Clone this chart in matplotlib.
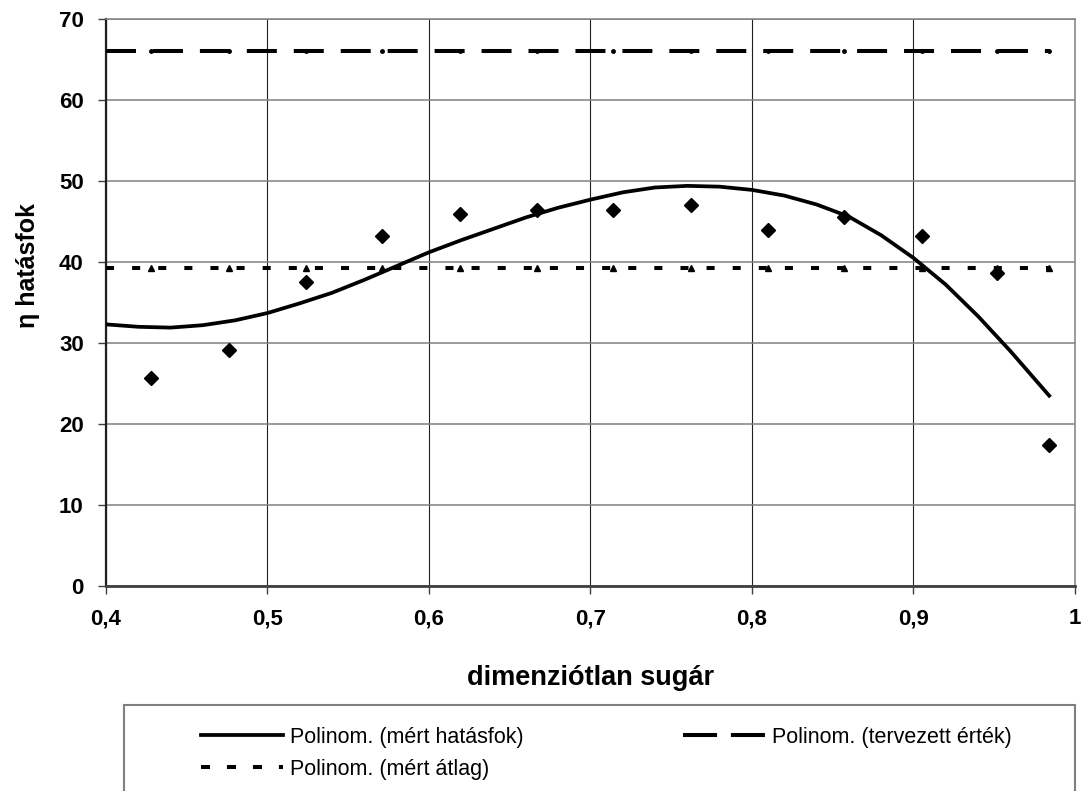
import numpy as np
import matplotlib.pyplot as plt
from matplotlib.lines import Line2D
from matplotlib.patches import Rectangle

plt.rcParams['font.family'] = ['Liberation Sans', 'DejaVu Sans']
plt.rcParams['lines.scale_dashes'] = False

# dimenziótlan sugár (mérési pontok)
r = [0.428, 0.476, 0.524, 0.571, 0.619, 0.667, 0.714, 0.762, 0.810, 0.857, 0.905, 0.952, 0.984]
# mért hatásfok
eta = [25.7, 29.1, 37.5, 43.2, 45.9, 46.4, 46.4, 47.0, 44.0, 45.6, 43.2, 38.7, 17.4]
# tervezett érték
tervezett = [66.0, 66.0, 66.0, 66.0, 66.0, 66.0, 66.0, 66.0, 66.0, 66.0, 66.0, 66.0, 66.0]
# mért átlag
atlag = [39.2, 39.2, 39.2, 39.2, 39.2, 39.2, 39.2, 39.2, 39.2, 39.2, 39.2, 39.2, 39.2]

# Polinom. (mért hatásfok)
trend_r = [0.40, 0.42, 0.44, 0.46, 0.48, 0.50, 0.52, 0.54, 0.56, 0.58, 0.60, 0.62, 0.64,
           0.66, 0.68, 0.70, 0.72, 0.74, 0.76, 0.78, 0.80, 0.82, 0.84, 0.86, 0.88, 0.90,
           0.92, 0.94, 0.96, 0.984]
trend_eta = [32.3, 32.0, 31.9, 32.2, 32.8, 33.7, 34.9, 36.2, 37.8, 39.5, 41.2, 42.7, 44.1,
             45.5, 46.7, 47.7, 48.6, 49.2, 49.4, 49.3, 48.9, 48.2, 47.1, 45.6, 43.3, 40.5,
             37.2, 33.3, 29.0, 23.5]

x_ticks = [0.4, 0.5, 0.6, 0.7, 0.8, 0.9, 1.0]
x_labels = ['0,4', '0,5', '0,6', '0,7', '0,8', '0,9', '1']
y_ticks = [0, 10, 20, 30, 40, 50, 60, 70]

fig = plt.figure(figsize=(10.82, 7.91), dpi=100)
ax = fig.add_axes([106 / 1082, 1 - 586 / 791, 969 / 1082, 567 / 791])

# vízszintes trendvonalak 0,4-től az utolsó pontig
xs = np.linspace(0.4, r[-1], 50)
fit_terv = np.polyval(np.polyfit(r, tervezett, 2), xs)
fit_atl = np.polyval(np.polyfit(r, atlag, 2), xs)

ax.plot(r, tervezett, ls='none', marker='o', ms=2.5, color='black', zorder=4)
ax.plot(r, atlag, ls='none', marker='^', ms=4.5, color='black', zorder=4)
ax.plot(r, eta, ls='none', marker='D', ms=7.5, color='black', zorder=5)

ax.plot(trend_r, trend_eta, color='black', lw=2.7, zorder=6)
ax.plot(xs, fit_terv, color='black', lw=2.9, dashes=(21.6, 12.2), zorder=3)
ax.plot(xs, fit_atl, color='black', lw=2.9, dashes=(5.8, 13), zorder=3)

ax.set_xlim(0.4, 1.0)
ax.set_ylim(0, 70)
ax.set_xticks(x_ticks)
ax.set_xticklabels(x_labels)
ax.set_yticks(y_ticks)
ax.tick_params(axis='both', direction='out', length=6, width=1, color='#404040',
               labelsize=16, pad=10)
for lab in ax.get_xticklabels() + ax.get_yticklabels():
    lab.set_fontweight('bold')

ax.grid(axis='x', color='#202020', lw=0.8)
ax.grid(axis='y', color='#808080', lw=1.1)
ax.set_axisbelow(True)
for side in ['top', 'right']:
    ax.spines[side].set_color('#808080')
    ax.spines[side].set_linewidth(1.1)
ax.spines['left'].set_color('#202020')
ax.spines['left'].set_linewidth(1.6)
ax.spines['bottom'].set_color('#404040')
ax.spines['bottom'].set_linewidth(2)

ax.set_xlabel('dimenziótlan sugár', fontsize=19.5, fontweight='bold')
ax.xaxis.set_label_coords(0.5, -0.139)
ax.set_ylabel('η hatásfok', fontsize=18, fontweight='bold')
ax.yaxis.set_label_coords(-0.068, 0.566)

# jelmagyarázat
fig.add_artist(Rectangle((124 / 1082, -0.05), 951 / 1082, 0.05 + 1 - 705 / 791,
                         transform=fig.transFigure, facecolor='none',
                         edgecolor='#808080', lw=1.5))
h1 = Line2D([], [], color='black', lw=2.7)
h2 = Line2D([], [], color='black', lw=2.9, dashes=(24.5, 10))
h3 = Line2D([], [], color='black', lw=2.9, dashes=(6.5, 12.2))
leg_font = {'family': ['Liberation Sans', 'DejaVu Sans'], 'size': 15.5}
fig.legend([h1, h3], ['Polinom. (mért hatásfok)', 'Polinom. (mért átlag)'],
           loc='upper left', bbox_to_anchor=(190 / 1082, 1 - 716 / 791),
           frameon=False, borderpad=0, handlelength=3.8, handletextpad=0.35,
           labelspacing=0.5, prop=leg_font)
fig.legend([h2], ['Polinom. (tervezett érték)'],
           loc='upper left', bbox_to_anchor=(672 / 1082, 1 - 716 / 791),
           frameon=False, borderpad=0, handlelength=3.8, handletextpad=0.35,
           prop=leg_font)

fig.savefig('out.png', dpi=100)
